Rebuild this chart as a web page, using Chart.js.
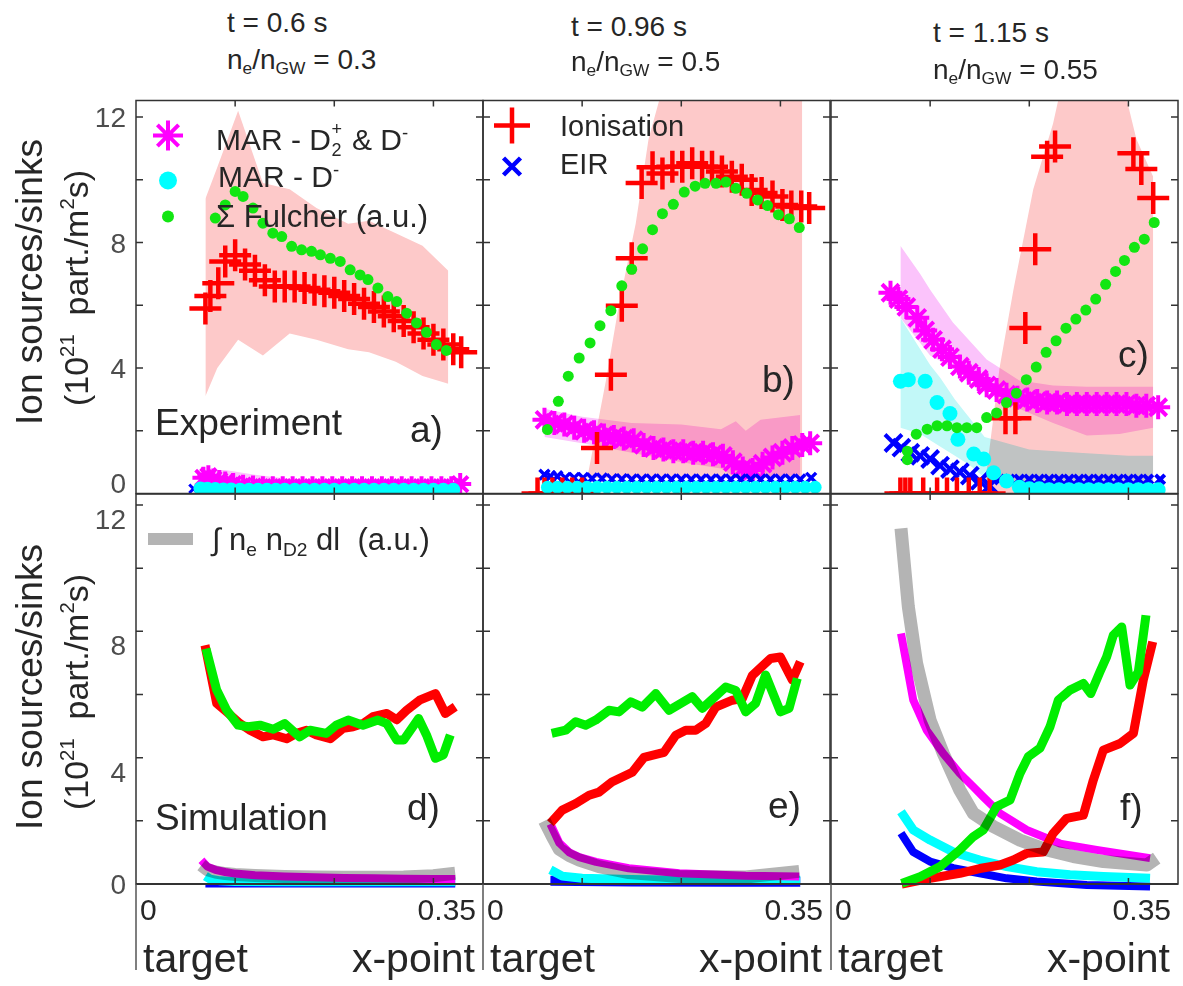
<!DOCTYPE html>
<html>
<head>
<meta charset="utf-8">
<script src="https://cdn.jsdelivr.net/npm/chart.js@4.4.1/dist/chart.umd.min.js"></script>
<style>
  body { margin: 0; background: #fff; }
  #fig { position: relative; width: 1183px; height: 986px; overflow: hidden; font-family: "Liberation Sans", Arial, sans-serif; color: #262626; }
  #fig canvas { position: absolute; }
  .txt { position: absolute; white-space: nowrap; line-height: 1; z-index: 5; }
  .txt sub, .txt sup { line-height: 0; font-size: 0.62em; }
  .txt sub { vertical-align: -0.3em; }
  .txt sup { vertical-align: 0.6em; }
  .rot { position: absolute; white-space: nowrap; line-height: 1; z-index: 5; transform: translate(-50%, -50%) rotate(-90deg); }
  .rot sup { line-height: 0; font-size: 0.6em; vertical-align: 0.7em; }
  .stack { position: relative; display: inline-block; width: 0.42em; height: 1em; }
  .stack span { position: absolute; left: 0.03em; font-size: 0.6em; line-height: 1; }
  .stack .up { top: 3%; }
  .stack .dn { top: 72%; }
</style>
</head>
<body>
<div id="fig"></div>
<script>
// --- AXES ---
const Y_MAX = [12.53, 12.35];
const Y_MINOR_TICKS = [2, 4, 6, 8, 10, 12];
const Y_TICK_LABELS = [0, 4, 8, 12];
const X_MINOR_TICKS = [0.1, 0.2, 0.3];
const X_TICK_LABELS = [0, 0.35];

// --- PANEL a) t = 0.6 s, experiment ---
const A_ION_X = [0.070, 0.075, 0.083, 0.090, 0.100, 0.110, 0.120, 0.130, 0.140, 0.150, 0.160, 0.170, 0.180, 0.190, 0.200, 0.210, 0.220, 0.230, 0.240, 0.250, 0.260, 0.270, 0.280, 0.290, 0.300, 0.310, 0.320, 0.328];
const A_ION_Y = [5.9, 6.3, 6.7, 7.4, 7.6, 7.3, 7.1, 6.8, 6.6, 6.6, 6.6, 6.55, 6.5, 6.45, 6.4, 6.3, 6.2, 6.05, 5.95, 5.8, 5.65, 5.5, 5.3, 5.1, 4.9, 4.75, 4.6, 4.5];
const A_FUL_X = [0.080, 0.090, 0.100, 0.108, 0.118, 0.128, 0.138, 0.147, 0.157, 0.167, 0.177, 0.186, 0.196, 0.206, 0.216, 0.226, 0.234, 0.244, 0.254, 0.263, 0.273, 0.283, 0.293, 0.303, 0.313];
const A_FUL_Y = [8.78, 9.2, 9.63, 9.47, 9.1, 8.62, 8.3, 8.19, 7.88, 7.77, 7.72, 7.61, 7.5, 7.4, 7.13, 6.97, 6.82, 6.55, 6.28, 6.12, 5.75, 5.44, 5.14, 4.75, 4.56];
const A_MAR_X = [0.068, 0.073, 0.078, 0.084, 0.090, 0.098, 0.108, 0.118, 0.128, 0.138, 0.148, 0.158, 0.168, 0.178, 0.188, 0.198, 0.208, 0.218, 0.228, 0.238, 0.248, 0.258, 0.268, 0.278, 0.288, 0.298, 0.308, 0.318, 0.327];
const A_MAR_Y = [0.5, 0.55, 0.45, 0.4, 0.35, 0.3, 0.25, 0.22, 0.2, 0.2, 0.2, 0.2, 0.2, 0.2, 0.2, 0.2, 0.2, 0.2, 0.2, 0.2, 0.2, 0.2, 0.2, 0.2, 0.2, 0.2, 0.2, 0.2, 0.3];
const A_DM_X = [0.065, 0.072, 0.080, 0.088, 0.096, 0.105, 0.114, 0.123, 0.132, 0.141, 0.150, 0.160, 0.170, 0.180, 0.190, 0.200, 0.210, 0.220, 0.230, 0.240, 0.250, 0.260, 0.270, 0.280, 0.290, 0.300, 0.310, 0.320];
const A_DM_Y = [0.16, 0.15, 0.14, 0.13, 0.13, 0.12, 0.12, 0.12, 0.12, 0.12, 0.12, 0.12, 0.12, 0.12, 0.12, 0.12, 0.12, 0.12, 0.12, 0.12, 0.12, 0.12, 0.12, 0.12, 0.12, 0.12, 0.12, 0.12];
const A_EIR_X = [0.058, 0.064, 0.070];
const A_EIR_Y = [0.15, 0.1, 0.05];
const A_BAND_X = [0.070, 0.082, 0.103, 0.128, 0.155, 0.182, 0.214, 0.235, 0.262, 0.289, 0.315];
const A_BAND_LO = [3.1, 4.0, 4.9, 4.4, 5.1, 4.9, 4.6, 4.5, 4.2, 3.75, 3.5];
const A_BAND_HI = [9.4, 10.4, 12.2, 9.9, 9.7, 9.1, 8.6, 8.7, 8.3, 7.9, 7.1];
const A_MBAND_X = [0.068, 0.090, 0.120, 0.160, 0.190];
const A_MBAND_LO = [0, 0, 0, 0, 0];
const A_MBAND_HI = [0.75, 0.75, 0.6, 0.45, 0.3];

// --- PANEL b) t = 0.96 s, experiment ---
const B_ION_X = [0.055, 0.062, 0.070, 0.080, 0.090, 0.100, 0.115, 0.129, 0.140, 0.150, 0.160, 0.171, 0.181, 0.191, 0.201, 0.211, 0.221, 0.231, 0.241, 0.251, 0.261, 0.271, 0.281, 0.292, 0.302, 0.311, 0.321, 0.329];
const B_ION_Y = [0, 0, 0, 0, 0, 0, 1.45, 3.79, 5.99, 7.5, 9.9, 10.4, 10.2, 10.42, 10.42, 10.53, 10.42, 10.42, 10.27, 10.1, 10.0, 9.68, 9.58, 9.47, 9.2, 9.15, 9.15, 9.1];
const B_FUL_X = [0.065, 0.076, 0.086, 0.097, 0.108, 0.118, 0.129, 0.140, 0.150, 0.161, 0.171, 0.181, 0.192, 0.203, 0.214, 0.224, 0.235, 0.245, 0.255, 0.266, 0.277, 0.287, 0.298, 0.309, 0.319];
const B_FUL_Y = [2.04, 2.94, 3.74, 4.32, 4.8, 5.35, 5.83, 6.62, 7.15, 7.8, 8.41, 8.92, 9.22, 9.61, 9.8, 9.89, 9.89, 9.93, 9.73, 9.57, 9.36, 9.18, 8.89, 8.76, 8.48];
const B_MAR_X = [0.062, 0.072, 0.082, 0.092, 0.102, 0.112, 0.122, 0.132, 0.142, 0.152, 0.162, 0.172, 0.182, 0.192, 0.202, 0.212, 0.222, 0.232, 0.242, 0.252, 0.262, 0.272, 0.282, 0.292, 0.302, 0.312, 0.322, 0.330];
const B_MAR_Y = [2.35, 2.25, 2.2, 2.1, 2.0, 1.95, 1.85, 1.8, 1.75, 1.7, 1.55, 1.45, 1.4, 1.35, 1.35, 1.3, 1.3, 1.25, 1.2, 1.0, 0.8, 0.75, 0.95, 1.15, 1.3, 1.45, 1.55, 1.6];
const B_DM_X = [0.065, 0.075, 0.085, 0.095, 0.105, 0.115, 0.125, 0.135, 0.145, 0.155, 0.165, 0.175, 0.185, 0.195, 0.205, 0.215, 0.225, 0.235, 0.245, 0.255, 0.265, 0.275, 0.285, 0.295, 0.305, 0.315, 0.325, 0.335];
const B_DM_Y = [0.2, 0.2, 0.2, 0.2, 0.2, 0.2, 0.2, 0.2, 0.2, 0.2, 0.2, 0.2, 0.2, 0.2, 0.2, 0.2, 0.2, 0.2, 0.2, 0.2, 0.2, 0.2, 0.2, 0.2, 0.2, 0.2, 0.2, 0.2];
const B_EIR_X = [0.062, 0.068, 0.075, 0.083, 0.092, 0.101, 0.110, 0.120, 0.130, 0.140, 0.150, 0.160, 0.170, 0.180, 0.190, 0.200, 0.210, 0.220, 0.230, 0.240, 0.250, 0.260, 0.270, 0.280, 0.290, 0.300, 0.310, 0.320, 0.331];
const B_EIR_Y = [0.6, 0.55, 0.55, 0.5, 0.5, 0.5, 0.48, 0.48, 0.46, 0.46, 0.45, 0.45, 0.45, 0.45, 0.45, 0.45, 0.45, 0.45, 0.45, 0.45, 0.45, 0.45, 0.45, 0.45, 0.45, 0.45, 0.45, 0.45, 0.5];
const B_BAND_X = [0.104, 0.124, 0.137, 0.154, 0.167, 0.180, 0.220, 0.270, 0.322];
const B_BAND_LO = [0.5, 0.5, 0.5, 0.5, 0.5, 0.5, 0.5, 0.5, 0.5];
const B_BAND_HI = [0.3, 3.6, 6.0, 8.6, 11.3, 12.8, 14, 14, 14];
const B_MBAND_X = [0.062, 0.100, 0.150, 0.200, 0.240, 0.255, 0.265, 0.280, 0.320];
const B_MBAND_LO = [1.8, 1.6, 1.3, 1.0, 0.8, 0.5, 0.3, 0.5, 0.6];
const B_MBAND_HI = [2.7, 2.45, 2.25, 2.2, 2.05, 2.3, 2.0, 2.35, 2.5];

// --- PANEL c) t = 1.15 s, experiment ---
const C_ION_X = [0.070, 0.075, 0.080, 0.093, 0.107, 0.117, 0.127, 0.139, 0.150, 0.160, 0.176, 0.186, 0.196, 0.206, 0.218, 0.226, 0.305, 0.313, 0.325];
const C_ION_Y = [0, 0, 0, 0, 0, 0, 0, 0, 0, 0, 2.4, 2.4, 5.28, 7.79, 10.74, 11.06, 10.85, 10.35, 9.42];
const C_FUL_X = [0.077, 0.077, 0.086, 0.097, 0.107, 0.117, 0.127, 0.137, 0.147, 0.157, 0.167, 0.177, 0.187, 0.197, 0.207, 0.217, 0.227, 0.237, 0.247, 0.257, 0.267, 0.277, 0.287, 0.296, 0.306, 0.316, 0.326];
const C_FUL_Y = [1.08, 1.35, 1.89, 2.05, 2.16, 2.16, 2.1, 2.1, 2.1, 2.42, 2.57, 2.9, 3.2, 3.63, 4.03, 4.5, 4.87, 5.27, 5.56, 5.85, 6.2, 6.67, 7.08, 7.43, 7.85, 8.11, 8.64];
const C_MAR_X = [0.060, 0.068, 0.076, 0.087, 0.095, 0.103, 0.112, 0.120, 0.130, 0.139, 0.149, 0.157, 0.167, 0.177, 0.188, 0.198, 0.208, 0.218, 0.228, 0.238, 0.248, 0.258, 0.268, 0.278, 0.288, 0.298, 0.308, 0.318, 0.330];
const C_MAR_Y = [6.4, 6.2, 5.95, 5.6, 5.2, 4.9, 4.6, 4.35, 4.05, 3.85, 3.65, 3.45, 3.3, 3.15, 3.05, 3.0, 2.95, 2.9, 2.9, 2.85, 2.85, 2.85, 2.85, 2.85, 2.85, 2.85, 2.8, 2.8, 2.75];
const C_DM_X = [0.070, 0.078, 0.095, 0.107, 0.120, 0.128, 0.144, 0.154, 0.164, 0.177, 0.190, 0.200, 0.210, 0.220, 0.230, 0.240, 0.250, 0.260, 0.270, 0.280, 0.290, 0.300, 0.310, 0.320, 0.330];
const C_DM_Y = [3.58, 3.63, 3.58, 2.9, 2.55, 1.73, 1.26, 1.1, 0.66, 0.4, 0.2, 0.15, 0.15, 0.12, 0.12, 0.12, 0.12, 0.12, 0.12, 0.12, 0.12, 0.12, 0.12, 0.12, 0.12];
const C_EIR_X = [0.063, 0.071, 0.080, 0.090, 0.100, 0.110, 0.120, 0.130, 0.140, 0.150, 0.160, 0.170, 0.180, 0.190, 0.200, 0.210, 0.220, 0.230, 0.240, 0.250, 0.260, 0.270, 0.280, 0.290, 0.300, 0.310, 0.320, 0.332];
const C_EIR_Y = [1.61, 1.46, 1.3, 1.2, 1.1, 0.89, 0.78, 0.68, 0.57, 0.4, 0.25, 0.45, 0.45, 0.45, 0.45, 0.45, 0.45, 0.45, 0.45, 0.45, 0.45, 0.45, 0.45, 0.45, 0.45, 0.45, 0.45, 0.45];
const C_BAND_X = [0.155, 0.170, 0.184, 0.204, 0.224, 0.231, 0.260, 0.290, 0.298, 0.308, 0.325];
const C_BAND_LO = [0, 0, 0, 0, 0, 0, 0, 0, 0, 0, 0];
const C_BAND_HI = [0.2, 4.0, 6.5, 9.7, 11.8, 12.8, 13.5, 13.5, 12.6, 11.3, 10.1];
const C_MBAND_X = [0.070, 0.090, 0.100, 0.123, 0.157, 0.190, 0.224, 0.258, 0.291, 0.325];
const C_MBAND_LO = [5.6, 4.8, 4.4, 4.0, 3.3, 2.7, 2.25, 1.85, 1.9, 2.1];
const C_MBAND_HI = [7.9, 7.0, 6.5, 5.45, 4.27, 3.6, 3.44, 3.4, 3.4, 3.4];
const C_CBAND_X = [0.070, 0.080, 0.090, 0.100, 0.110, 0.125, 0.140, 0.155, 0.200, 0.250, 0.300, 0.325];
const C_CBAND_LO = [2.1, 2.0, 1.9, 1.7, 1.5, 1.2, 0.9, 0.5, 0.2, 0.1, 0.1, 0.1];
const C_CBAND_HI = [5.6, 5.1, 4.6, 4.1, 3.7, 3.0, 2.4, 1.8, 1.4, 1.3, 1.2, 1.2];

// --- PANEL d) t = 0.6 s, simulation ---
const D_ION_X = [0.0696, 0.0814, 0.0915, 0.1049, 0.115, 0.128, 0.1385, 0.152, 0.162, 0.172, 0.182, 0.196, 0.209, 0.219, 0.229, 0.239, 0.253, 0.263, 0.273, 0.286, 0.302, 0.312, 0.322];
const D_ION_Y = [7.56, 5.72, 5.45, 5.08, 4.87, 4.66, 4.72, 4.6, 4.77, 4.87, 4.72, 4.6, 4.93, 4.98, 5.08, 5.3, 5.4, 5.2, 5.5, 5.82, 6.03, 5.4, 5.61];
const D_FUL_X = [0.0706, 0.0814, 0.0915, 0.103, 0.113, 0.125, 0.1385, 0.150, 0.165, 0.1755, 0.192, 0.202, 0.214, 0.229, 0.244, 0.253, 0.263, 0.270, 0.285, 0.293, 0.302, 0.310, 0.317];
const D_FUL_Y = [7.45, 6.14, 5.5, 5.03, 4.98, 5.03, 4.9, 5.08, 4.66, 4.87, 4.77, 5.03, 5.19, 5.03, 5.19, 5.08, 4.56, 4.56, 5.24, 4.72, 3.98, 4.09, 4.72];
const D_NN_X = [0.066, 0.072, 0.080, 0.090, 0.100, 0.120, 0.150, 0.180, 0.210, 0.240, 0.270, 0.300, 0.322];
const D_NN_Y = [0.6, 0.45, 0.38, 0.33, 0.3, 0.27, 0.24, 0.22, 0.21, 0.21, 0.22, 0.26, 0.34];
const D_MAR_Y = [0.75, 0.55, 0.45, 0.38, 0.33, 0.28, 0.24, 0.21, 0.19, 0.18, 0.17, 0.16, 0.16];
const D_DM_X = [0.070, 0.075, 0.085, 0.100, 0.150, 0.200, 0.250, 0.300, 0.322];
const D_DM_Y = [0.25, 0.15, 0.1, 0.08, 0.07, 0.07, 0.07, 0.07, 0.07];
const D_EIR_X = [0.070, 0.100, 0.200, 0.300, 0.322];
const D_EIR_Y = [-0.05, -0.05, -0.05, -0.05, -0.05];

// --- PANEL e) t = 0.96 s, simulation ---
const E_ION_X = [0.068, 0.080, 0.0935, 0.107, 0.117, 0.130, 0.1506, 0.1624, 0.1826, 0.1944, 0.2045, 0.2145, 0.2246, 0.2347, 0.2515, 0.2615, 0.2716, 0.290, 0.300, 0.312, 0.320];
const E_ION_Y = [1.92, 2.34, 2.55, 2.81, 2.91, 3.23, 3.54, 4.01, 4.17, 4.71, 4.87, 4.87, 5.08, 5.6, 5.82, 5.87, 6.6, 7.14, 7.19, 6.46, 7.04];
const E_FUL_X = [0.0693, 0.0834, 0.0935, 0.1036, 0.1137, 0.127, 0.1372, 0.149, 0.1607, 0.1742, 0.1876, 0.2111, 0.2212, 0.2448, 0.2549, 0.265, 0.275, 0.285, 0.300, 0.3087, 0.317];
const E_FUL_Y = [4.77, 4.87, 5.14, 5.03, 5.19, 5.5, 5.45, 5.77, 5.6, 6.03, 5.5, 5.93, 5.56, 6.24, 6.13, 5.45, 5.72, 6.62, 5.45, 5.56, 6.51];
const E_NN_X = [0.062, 0.070, 0.077, 0.087, 0.097, 0.117, 0.147, 0.198, 0.265, 0.319];
const E_NN_Y = [2.0, 1.5, 1.1, 0.9, 0.76, 0.55, 0.36, 0.24, 0.22, 0.4];
const E_MAR_X = [0.068, 0.077, 0.087, 0.097, 0.114, 0.147, 0.198, 0.265, 0.319];
const E_MAR_Y = [1.9, 1.3, 1.0, 0.85, 0.7, 0.5, 0.34, 0.26, 0.24];
const E_DM_X = [0.068, 0.080, 0.100, 0.150, 0.200, 0.250, 0.320];
const E_DM_Y = [0.45, 0.25, 0.18, 0.14, 0.12, 0.12, 0.12];
const E_EIR_X = [0.068, 0.150, 0.250, 0.320];
const E_EIR_Y = [0.1, 0.08, 0.07, 0.07];

// --- PANEL f) t = 1.15 s, simulation ---
const F_ION_X = [0.0713, 0.0999, 0.130, 0.150, 0.1705, 0.184, 0.1974, 0.214, 0.224, 0.2377, 0.2545, 0.2646, 0.2747, 0.2915, 0.305, 0.315, 0.3245];
const F_ION_Y = [0, 0.18, 0.34, 0.49, 0.6, 0.76, 0.97, 1.01, 1.6, 2.08, 2.18, 3.29, 4.24, 4.45, 4.77, 6.46, 7.67];
const F_FUL_X = [0.0713, 0.0898, 0.110, 0.130, 0.1435, 0.1536, 0.167, 0.1806, 0.1906, 0.199, 0.2108, 0.2209, 0.2293, 0.241, 0.2545, 0.262, 0.2713, 0.278, 0.2848, 0.2932, 0.3016, 0.310, 0.3177];
const F_FUL_Y = [0.02, 0.23, 0.55, 1.08, 1.5, 1.71, 2.45, 2.66, 3.5, 4.03, 4.3, 4.98, 5.82, 6.14, 6.35, 6.03, 6.72, 7.19, 7.88, 8.14, 6.3, 6.72, 8.51];
const F_NN_X = [0.0706, 0.078, 0.0864, 0.0999, 0.1133, 0.130, 0.1435, 0.1637, 0.1906, 0.2176, 0.2444, 0.2747, 0.3184, 0.3285];
const F_NN_Y = [11.26, 8.78, 6.98, 5.19, 4.13, 2.97, 2.24, 1.82, 1.39, 1.08, 0.87, 0.71, 0.6, 0.82];
const F_MAR_X = [0.0706, 0.083, 0.0965, 0.1133, 0.130, 0.1435, 0.1536, 0.1705, 0.1974, 0.231, 0.268, 0.3218];
const F_MAR_Y = [7.93, 5.82, 4.87, 4.13, 3.5, 3.08, 2.76, 2.24, 1.71, 1.28, 1.08, 0.82];
const F_DM_X = [0.0706, 0.083, 0.0999, 0.1234, 0.150, 0.1772, 0.2075, 0.241, 0.2747, 0.3218];
const F_DM_Y = [2.29, 1.71, 1.39, 1.01, 0.76, 0.55, 0.39, 0.29, 0.24, 0.18];
const F_EIR_X = [0.0706, 0.083, 0.0999, 0.1234, 0.150, 0.1772, 0.2075, 0.258, 0.3218];
const F_EIR_Y = [1.61, 1.01, 0.71, 0.5, 0.34, 0.18, 0.08, -0.03, -0.08];


// --- LAYOUT & STYLE ---
const fig = document.getElementById('fig');
const FONT = '"Liberation Sans", Arial, sans-serif';
const COL_LEFT = [136, 483, 831];
const COL_WIDTH = 347;
const ROW_TOP = [100, 494];
const ROW_HEIGHT = [394, 390];
const Y_LABEL_SHIFT = [[-11, 0, 0, 0], [0, 14, 14, 14]];

const RED = '#ff0000', GREEN = '#12e612', LINE_GREEN = '#00ee00', MAGENTA = '#ff00ff';
const CYAN = '#00ffff', BLUE = '#0000ff', GREY = '#b4b4b4';
const PINK = '#fdc9c9', LILAC = '#fbc3fb', ICE = '#c2f8f8';

const CLIP_TOP = { left: 40, right: 40, top: 0, bottom: 0 };
const CLIP_BOTTOM = { left: 40, right: 40, top: 0, bottom: 8 };

const pts = (xs, ys) => xs.map((x, i) => ({ x, y: ys[i] }));

function markers(xs, ys, style, color, radius, width) {
    return {
        data: pts(xs, ys), showLine: false, clip: CLIP_TOP,
        pointStyle: style, pointRadius: radius, pointBorderWidth: width,
        pointBorderColor: color, pointBackgroundColor: color
    };
}

function band(xs, lo, hi, color) {
    return [
        { data: pts(xs, lo), borderColor: 'transparent', borderWidth: 0, pointRadius: 0, fill: false, clip: CLIP_TOP },
        { data: pts(xs, hi), borderColor: 'transparent', borderWidth: 0, pointRadius: 0, fill: '-1', backgroundColor: color, clip: CLIP_TOP }
    ];
}

function curve(xs, ys, color, width, multiply) {
    return {
        data: pts(xs, ys), borderColor: color, borderWidth: width, pointRadius: 0, fill: false,
        clip: CLIP_BOTTOM, borderJoinStyle: 'round', borderCapStyle: 'butt', multiply: !!multiply
    };
}

function drawMark(ctx, a, m) {
    const cx = a.left + m.dx, cy = a.top + m.dy;
    ctx.strokeStyle = m.color;
    ctx.fillStyle = m.color;
    ctx.lineWidth = m.lw || 3.5;
    ctx.beginPath();
    if (m.style === 'circle') {
        ctx.arc(cx, cy, m.r, 0, Math.PI * 2);
        ctx.fill();
        return;
    }
    if (m.style === 'bar' || m.style === 'cross' || m.style === 'star') {
        ctx.moveTo(cx - m.r, cy); ctx.lineTo(cx + m.r, cy);
    }
    if (m.style === 'cross' || m.style === 'star') {
        ctx.moveTo(cx, cy - m.r); ctx.lineTo(cx, cy + m.r);
    }
    if (m.style === 'crossRot' || m.style === 'star') {
        const d = m.r * Math.SQRT1_2;
        ctx.moveTo(cx - d, cy - d); ctx.lineTo(cx + d, cy + d);
        ctx.moveTo(cx - d, cy + d); ctx.lineTo(cx + d, cy - d);
    }
    ctx.stroke();
}

function panelPlugin(col, row, legend) {
    return {
        id: 'panelDeco',
        // band fills are drawn by the filler in beforeDatasetsDraw, blended like overlapping transparencies
        beforeDraw(chart) { chart.ctx.globalCompositeOperation = 'multiply'; },
        beforeDatasetsDraw(chart) { chart.ctx.globalCompositeOperation = 'source-over'; },
        beforeDatasetDraw(chart, args) {
            if (chart.data.datasets[args.index].multiply) chart.ctx.globalCompositeOperation = 'multiply';
        },
        afterDatasetDraw(chart) { chart.ctx.globalCompositeOperation = 'source-over'; },
        afterDraw(chart) {
            const { ctx, chartArea: a, scales: { x, y } } = chart;
            ctx.save();
            ctx.globalCompositeOperation = 'source-over';
            ctx.strokeStyle = '#333';
            ctx.lineWidth = 1.5;
            ctx.strokeRect(a.left, a.top, a.right - a.left, a.bottom - a.top);
            ctx.beginPath();
            Y_MINOR_TICKS.forEach(v => {
                const py = y.getPixelForValue(v);
                ctx.moveTo(a.left, py); ctx.lineTo(a.left + 7, py);
                ctx.moveTo(a.right - 7, py); ctx.lineTo(a.right, py);
            });
            X_MINOR_TICKS.forEach(v => {
                const px = x.getPixelForValue(v);
                ctx.moveTo(px, a.top); ctx.lineTo(px, a.top + 6);
                ctx.moveTo(px, a.bottom - 6); ctx.lineTo(px, a.bottom);
            });
            ctx.stroke();

            if (row === 1) {
                ctx.lineWidth = 2.2;
                ctx.beginPath();
                ctx.moveTo(a.left, a.bottom); ctx.lineTo(a.right, a.bottom);
                ctx.stroke();
                ctx.lineWidth = 1.5;
                ctx.strokeStyle = '#555';
                ctx.beginPath();
                ctx.moveTo(a.left, a.bottom); ctx.lineTo(a.left, a.bottom + 86);
                ctx.stroke();
                ctx.fillStyle = '#262626';
                ctx.font = '30px ' + FONT;
                ctx.textBaseline = 'alphabetic';
                ctx.textAlign = 'left';
                ctx.fillText(String(X_TICK_LABELS[0]), x.getPixelForValue(X_TICK_LABELS[0]) + 4, a.bottom + 36);
                ctx.textAlign = 'right';
                ctx.fillText(String(X_TICK_LABELS[1]), x.getPixelForValue(X_TICK_LABELS[1]) - 7, a.bottom + 36);
            }

            if (col === 0) {
                ctx.fillStyle = '#4d4d4d';
                ctx.font = '28px ' + FONT;
                ctx.textAlign = 'right';
                ctx.textBaseline = 'alphabetic';
                Y_TICK_LABELS.forEach((v, i) => {
                    ctx.fillText(String(v), a.left - 10, y.getPixelForValue(v) + 10 + Y_LABEL_SHIFT[row][i]);
                });
            }

            (legend || []).forEach(m => drawMark(ctx, a, m));
            ctx.restore();
        }
    };
}

function makePanel(col, row, datasets, legend) {
    const pad = { left: col === 0 ? 136 : 40, right: 40, top: 20, bottom: row === 1 ? 100 : 20 };
    const w = COL_WIDTH + pad.left + pad.right;
    const h = ROW_HEIGHT[row] + pad.top + pad.bottom;
    const canvas = document.createElement('canvas');
    canvas.width = w;
    canvas.height = h;
    canvas.style.width = w + 'px';
    canvas.style.height = h + 'px';
    canvas.style.left = (COL_LEFT[col] - pad.left) + 'px';
    canvas.style.top = (ROW_TOP[row] - pad.top) + 'px';
    fig.appendChild(canvas);

    return new Chart(canvas, {
        type: 'line',
        data: { datasets },
        options: {
            responsive: false,
            animation: false,
            devicePixelRatio: 1,
            events: [],
            layout: { padding: pad },
            elements: { line: { tension: 0 } },
            scales: {
                x: { type: 'linear', min: 0, max: 0.35, display: false },
                y: { type: 'linear', min: 0, max: Y_MAX[row], display: false }
            },
            plugins: {
                legend: { display: false },
                tooltip: { enabled: false },
                filler: { drawTime: 'beforeDatasetsDraw', propagate: false }
            }
        },
        plugins: [panelPlugin(col, row, legend)]
    });
}

// --- EXPERIMENT ROW ---
makePanel(0, 0, [
    markers(A_FUL_X, A_FUL_Y, 'circle', GREEN, 5.5, 0),
    markers(A_DM_X, A_DM_Y, 'circle', CYAN, 7, 0),
    markers(A_ION_X, A_ION_Y, 'cross', RED, 16, 4.5),
    markers(A_EIR_X, A_EIR_Y, 'crossRot', BLUE, 6, 3),
    markers(A_MAR_X, A_MAR_Y, 'star', MAGENTA, 11, 4),
    ...band(A_BAND_X, A_BAND_LO, A_BAND_HI, PINK),
    ...band(A_MBAND_X, A_MBAND_LO, A_MBAND_HI, LILAC)
], [
    { style: 'star', dx: 32, dy: 35, r: 15, color: MAGENTA, lw: 4 },
    { style: 'circle', dx: 32, dy: 80, r: 9, color: CYAN },
    { style: 'circle', dx: 32, dy: 116, r: 6, color: GREEN }
]);

makePanel(1, 0, [
    markers(B_FUL_X, B_FUL_Y, 'circle', GREEN, 5.5, 0),
    markers(B_DM_X, B_DM_Y, 'circle', CYAN, 6.5, 0),
    markers(B_ION_X, B_ION_Y, 'cross', RED, 16, 4.5),
    markers(B_EIR_X, B_EIR_Y, 'crossRot', BLUE, 7, 3.5),
    markers(B_MAR_X, B_MAR_Y, 'star', MAGENTA, 12, 4),
    ...band(B_BAND_X, B_BAND_LO, B_BAND_HI, PINK),
    ...band(B_MBAND_X, B_MBAND_LO, B_MBAND_HI, LILAC)
], [
    { style: 'cross', dx: 29, dy: 25, r: 18, color: RED, lw: 4.5 },
    { style: 'crossRot', dx: 29, dy: 66, r: 12, color: BLUE, lw: 4.5 }
]);

const cEir = markers(C_EIR_X, C_EIR_Y, 'crossRot', BLUE, 6, 4);
cEir.pointRadius = ctx => (ctx.dataIndex < 11 ? 12 : 6.5);
makePanel(2, 0, [
    markers(C_FUL_X, C_FUL_Y, 'circle', GREEN, 5.5, 0),
    markers(C_DM_X, C_DM_Y, 'circle', CYAN, 7.5, 0),
    markers(C_ION_X, C_ION_Y, 'cross', RED, 16, 4.5),
    cEir,
    markers(C_MAR_X, C_MAR_Y, 'star', MAGENTA, 12, 4),
    ...band(C_BAND_X, C_BAND_LO, C_BAND_HI, PINK),
    ...band(C_MBAND_X, C_MBAND_LO, C_MBAND_HI, LILAC),
    ...band(C_CBAND_X, C_CBAND_LO, C_CBAND_HI, ICE)
]);

// --- SIMULATION ROW ---
makePanel(0, 1, [
    curve(D_NN_X, D_NN_Y, GREY, 13, true),
    curve(D_FUL_X, D_FUL_Y, LINE_GREEN, 9),
    curve(D_ION_X, D_ION_Y, RED, 9),
    curve(D_NN_X, D_MAR_Y, MAGENTA, 8),
    curve(D_DM_X, D_DM_Y, CYAN, 9),
    curve(D_EIR_X, D_EIR_Y, BLUE, 4)
], [
    { style: 'bar', dx: 34.5, dy: 45, r: 22.5, color: GREY, lw: 12 }
]);

makePanel(1, 1, [
    curve(E_NN_X, E_NN_Y, GREY, 13, true),
    curve(E_FUL_X, E_FUL_Y, LINE_GREEN, 9),
    curve(E_ION_X, E_ION_Y, RED, 9),
    curve(E_MAR_X, E_MAR_Y, MAGENTA, 8),
    curve(E_DM_X, E_DM_Y, CYAN, 9),
    curve(E_EIR_X, E_EIR_Y, BLUE, 10)
]);

makePanel(2, 1, [
    curve(F_NN_X, F_NN_Y, GREY, 13, true),
    curve(F_FUL_X, F_FUL_Y, LINE_GREEN, 9),
    curve(F_ION_X, F_ION_Y, RED, 9),
    curve(F_MAR_X, F_MAR_Y, MAGENTA, 8),
    curve(F_DM_X, F_DM_Y, CYAN, 9),
    curve(F_EIR_X, F_EIR_Y, BLUE, 8)
]);


// --- TEXT ---
function addText(html, x, baseline, size, align) {
    const d = document.createElement('div');
    d.className = 'txt';
    d.innerHTML = html;
    d.style.fontSize = size + 'px';
    d.style.top = (baseline - 0.8465 * size) + 'px';
    if (align === 'right') d.style.right = (1183 - x) + 'px';
    else d.style.left = x + 'px';
    fig.appendChild(d);
}

function addRotText(html, cx, cy, size) {
    const d = document.createElement('div');
    d.className = 'rot';
    d.innerHTML = html;
    d.style.fontSize = size + 'px';
    d.style.left = cx + 'px';
    d.style.top = cy + 'px';
    fig.appendChild(d);
}

// column headers
addText('t = 0.6 s', 227, 33, 28);
addText('n<sub>e</sub>/n<sub>GW</sub> = 0.3', 227, 70, 28);
addText('t = 0.96 s', 571, 37, 28);
addText('n<sub>e</sub>/n<sub>GW</sub> = 0.5', 571, 72, 28);
addText('t = 1.15 s', 933, 43, 28);
addText('n<sub>e</sub>/n<sub>GW</sub> = 0.55', 933, 80, 28);

// y titles
addRotText('Ion sources/sinks', 29, 282, 37);
addRotText('(10<sup>21</sup>&nbsp; part./m<sup>2</sup>s)', 76, 288, 34);
addRotText('Ion sources/sinks', 29, 687, 37);
addRotText('(10<sup>21</sup>&nbsp; part./m<sup>2</sup>s)', 76, 692, 34);

// legends
addText('MAR - D<span class="stack"><span class="up">+</span><span class="dn">2</span></span> &amp; D<sup>-</sup>', 216, 145, 30);
addText('MAR - D<sup>-</sup>', 218, 187, 30);
addText('&Sigma; Fulcher (a.u.)', 216, 227, 31);
addText('Ionisation', 560, 137, 29);
addText('EIR', 560, 175, 29);
addText('&int; n<sub>e</sub> n<sub>D2</sub> dl&nbsp; (a.u.)', 212, 550, 31);

// panel annotations
addText('Experiment', 155, 435, 37);
addText('Simulation', 155, 830, 37);
addText('a)', 410, 442, 37);
addText('b)', 762, 392, 37);
addText('c)', 1118, 367, 37);
addText('d)', 407, 820, 37);
addText('e)', 768, 818, 37);
addText('f)', 1120, 820, 37);

// x-axis ends
COL_LEFT.forEach(left => {
    addText('target', left + 7, 973, 41);
    addText('x-point', left + COL_WIDTH - 8, 973, 41, 'right');
});
</script>
</body>
</html>
